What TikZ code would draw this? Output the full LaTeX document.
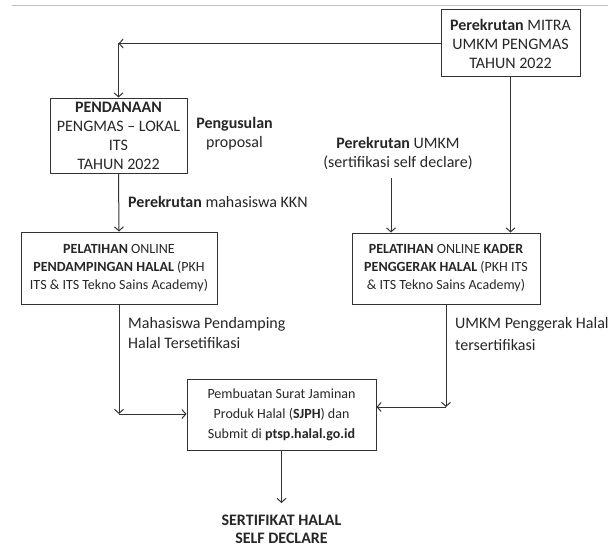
\documentclass[tikz,border=0pt]{standalone}
\usepackage{fontspec}
\setmainfont{Carlito}
\usetikzlibrary{arrows.meta}

\begin{document}
\begin{tikzpicture}[
        x=1pt, y=-1pt,
        >={Straight Barb[length=4pt, width=9pt]},
        every node/.style={text=black!85, font=\fontsize{16}{19}\selectfont},
        box/.style={draw=black!80, line width=1pt, align=center, inner sep=0pt},
        smallbox/.style={box, font=\fontsize{14}{18}\selectfont},
        flow/.style={draw=black!80, line width=1pt, ->},
        note/.style={align=left, inner sep=0pt}
    ]
        \useasboundingbox (0,0) rectangle (608,551);
        \draw[black!25, line width=1pt] (12,6) -- (608,6);

        % boxes
        \node[box, minimum width=139, minimum height=67] (mitra) at (510.5,43.5)
            {\textbf{Perekrutan} MITRA\\UMKM PENGMAS\\TAHUN 2022};
        \node[box, minimum width=137, minimum height=75] (pendanaan) at (118.5,135.5)
            {\textbf{PENDANAAN}\\PENGMAS -- LOKAL\\ITS\\TAHUN 2022};
        \node[smallbox, minimum width=196, minimum height=72] (latihkkn) at (119,268)
            {\textbf{PELATIHAN} ONLINE\\\textbf{PENDAMPINGAN HALAL} (PKH\\ITS \& ITS Tekno Sains Academy)};
        \node[smallbox, minimum width=188, minimum height=71] (latihkader) at (446,268.5)
            {\textbf{PELATIHAN} ONLINE \textbf{KADER}\\\textbf{PENGGERAK HALAL} (PKH ITS\\\& ITS Tekno Sains Academy)};
        \node[box, font=\fontsize{14}{20}\selectfont, minimum width=189, minimum height=71] (sjph) at (281.5,414.5)
            {Pembuatan Surat Jaminan\\Produk Halal (\textbf{SJPH}) dan\\Submit di \textbf{ptsp.halal.go.id}};
        \node[note, align=center, font=\fontsize{16}{18}\selectfont\bfseries, anchor=north] (sertifikat) at (281.5,515)
            {SERTIFIKAT HALAL\\SELF DECLARE};

        % texts
        \node[note, align=center] (usulan) at (234.5,133.5) {\textbf{Pengusulan}\\proposal};
        \node[note, align=center] (umkm) at (398,153) {\textbf{Perekrutan} UMKM\\(sertifikasi self declare)};
        \node[note, anchor=west] (kkn) at (128,202) {\textbf{Perekrutan} mahasiswa KKN};
        \node[note, anchor=west, font=\fontsize{16}{20}\selectfont] (pendamping) at (128,333)
            {Mahasiswa Pendamping\\Halal Tersetifikasi};
        \node[note, anchor=west, font=\fontsize{16}{22}\selectfont] (penggerak) at (455,334)
            {UMKM Penggerak Halal\\tersertifikasi};

        % corners
        \coordinate (mitracorner) at (118.5,43.5);
        \coordinate (umkmfoot) at (391,178);
        \coordinate (kkncorner) at (119,414);
        \coordinate (kadercorner) at (446,407);

        % arrows
        \draw[flow] (mitra.west) -- (mitracorner);
        \draw[flow] (mitracorner) -- (pendanaan.north);
        \draw[flow] (pendanaan.south) -- (latihkkn.north);
        \draw[flow] (mitra.south) -- (mitra.south |- latihkader.north);
        \draw[flow] (umkmfoot) -- (umkmfoot |- latihkader.north);
        \draw[flow] (latihkkn.south) -- (kkncorner);
        \draw[flow] (kkncorner) -- (kkncorner -| sjph.west);
        \draw[flow] (latihkader.south) -- (kadercorner);
        \draw[flow] (kadercorner) -- (kadercorner -| sjph.east);
        \draw[flow, shorten >=12pt] (sjph.south) -- (sertifikat.north);
    \end{tikzpicture}
\end{document}
